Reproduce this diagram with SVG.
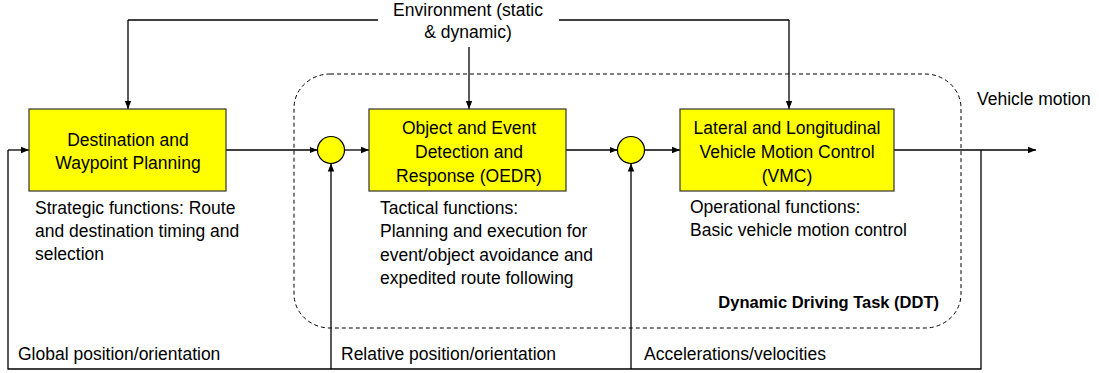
<svg xmlns="http://www.w3.org/2000/svg" width="1099" height="373" viewBox="0 0 1099 373">
<style>
text{font-family:"Liberation Sans",Arial,sans-serif;font-size:17.5px;fill:#000}
.c{text-anchor:middle}
.b{font-weight:bold;font-size:16.5px;text-anchor:end}
.box{fill:#ffff00;stroke:#333;stroke-width:1.2}
.sum{fill:#ffff00;stroke:#000;stroke-width:1.2}
.ln{fill:none;stroke:#000;stroke-width:1.3}
.arr{fill:none;stroke:#000;stroke-width:1.3;marker-end:url(#ah)}
.dash{fill:none;stroke:#000;stroke-width:1;stroke-dasharray:4 3}
</style>
<defs>
<marker id="ah" viewBox="0 0 10 10" refX="10" refY="5" markerWidth="8" markerHeight="8" markerUnits="userSpaceOnUse" orient="auto">
<path d="M0,1 L10,5 L0,9 Z" fill="#000"/>
</marker>
</defs>
<rect width="1099" height="373" fill="#fff"/>
<g id="ddt">
<rect class="dash" x="294" y="74" width="667" height="254" rx="36" ry="34"/>
<text class="b" x="939" y="308">Dynamic Driving Task (DDT)</text>
</g>
<g id="connectors">
<path class="ln" d="M378,20 H128"/>
<path class="arr" d="M128,20 V109"/>
<path class="ln" d="M559,20 H789"/>
<path class="arr" d="M789,20 V109"/>
<path class="arr" d="M469,47 V109"/>
<path class="arr" d="M226,150 H317.5"/>
<path class="arr" d="M344.5,150 H369"/>
<path class="arr" d="M566,150 H617.5"/>
<path class="arr" d="M644.5,150 H680"/>
<path class="arr" d="M894,150 H1036"/>
<path class="ln" d="M981,150 V369 H8 V150"/>
<path class="arr" d="M8,150 H29"/>
<path class="arr" d="M331,369 V163.5"/>
<path class="arr" d="M631,369 V163.5"/>
</g>
<g id="environment">
<text class="c" x="468" y="16">Environment (static</text>
<text class="c" x="468" y="38">&amp; dynamic)</text>
</g>
<g id="dwp">
<rect class="box" x="29" y="109" width="197" height="82"/>
<text class="c" x="128" y="146">Destination and</text>
<text class="c" x="128" y="169">Waypoint Planning</text>
</g>
<g id="strategic">
<text x="35" y="214">Strategic functions: Route</text>
<text x="35" y="237">and destination timing and</text>
<text x="35" y="260">selection</text>
</g>
<g id="sum1"><circle class="sum" cx="331" cy="150" r="13.5"/></g>
<g id="oedr">
<rect class="box" x="369" y="109" width="197" height="82"/>
<text class="c" x="469" y="134">Object and Event</text>
<text class="c" x="469" y="158">Detection and</text>
<text class="c" x="469" y="182">Response (OEDR)</text>
</g>
<g id="tactical">
<text x="380" y="214">Tactical functions:</text>
<text x="380" y="237">Planning and execution for</text>
<text x="380" y="261">event/object avoidance and</text>
<text x="380" y="284">expedited route following</text>
</g>
<g id="sum2"><circle class="sum" cx="631" cy="150" r="13.5"/></g>
<g id="vmc">
<rect class="box" x="680" y="109" width="214" height="82"/>
<text class="c" x="787" y="134">Lateral and Longitudinal</text>
<text class="c" x="787" y="158">Vehicle Motion Control</text>
<text class="c" x="787" y="182">(VMC)</text>
</g>
<g id="operational">
<text x="690" y="213">Operational functions:</text>
<text x="690" y="236">Basic vehicle motion control</text>
</g>
<g id="labels">
<text x="977" y="105">Vehicle motion</text>
<text x="18" y="360">Global position/orientation</text>
<text x="341" y="360">Relative position/orientation</text>
<text x="644" y="360">Accelerations/velocities</text>
</g>
</svg>
